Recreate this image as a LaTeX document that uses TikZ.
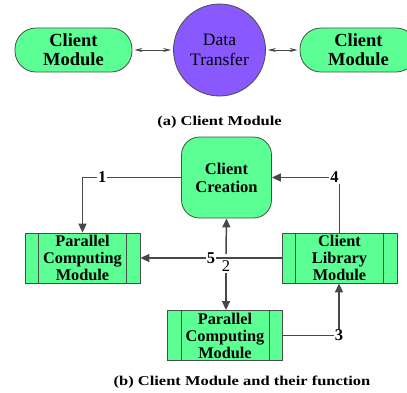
\documentclass[tikz,border=0pt]{standalone}
\usepackage{fontspec}
\setmainfont{Liberation Serif}
\newfontfamily\capfont[FakeStretch=1.22]{Liberation Serif}
\usetikzlibrary{arrows.meta,positioning}
\definecolor{mint}{RGB}{92,255,148}
\definecolor{violetfill}{RGB}{138,88,255}
\definecolor{edgegray}{RGB}{70,80,70}
\definecolor{arrowgray}{RGB}{72,72,72}
\tikzset{
  pill/.style={draw=edgegray, line width=0.8pt, fill=mint, rounded corners=21pt,
    minimum width=117pt, minimum height=44pt, align=center,
    font=\fontsize{18.5}{19}\selectfont\bfseries},
  circ/.style={circle, draw=edgegray, line width=0.8pt, fill=violetfill,
    minimum size=92pt, inner sep=0pt, align=center,
    font=\fontsize{17.5}{20}\selectfont},
  creabox/.style={draw=edgegray, line width=0.8pt, fill=mint, rounded corners=18pt,
    minimum width=90pt, minimum height=81pt, align=center,
    font=\fontsize{16.5}{18}\selectfont\bfseries},
  modbox/.style={draw=edgegray, line width=0.8pt, fill=mint,
    minimum width=115pt, minimum height=50pt, inner sep=0pt, align=center,
    font=\fontsize{16.3}{17}\selectfont\bfseries,
    path picture={
      \draw[edgegray, line width=0.8pt]
        ([xshift=13.5pt]path picture bounding box.north west) --
        ([xshift=13.5pt]path picture bounding box.south west);
      \draw[edgegray, line width=0.8pt]
        ([xshift=-13.5pt]path picture bounding box.north east) --
        ([xshift=-13.5pt]path picture bounding box.south east);
    }},
  conn/.style={draw=arrowgray, line width=1.5pt,
    -{Triangle[length=9pt,width=8pt]}},
  plainline/.style={draw=arrowgray, line width=1.5pt},
  twoway/.style={draw=arrowgray, line width=0.9pt,
    {Stealth[length=8pt,width=4pt]}-{Stealth[length=8pt,width=4pt]},
    shorten <=2pt, shorten >=2pt},
  lab/.style={fill=white, inner sep=1pt, font=\fontsize{16.5}{16}\selectfont\bfseries},
  labr/.style={inner sep=1pt, font=\fontsize{16.5}{16}\selectfont},
  captext/.style={font=\capfont\fontsize{13.5}{14}\selectfont\bfseries}
}
\begin{document}
\begin{tikzpicture}[x=1pt,y=-1pt]
\useasboundingbox (0,0) rectangle (407,392);

% (a)
\node[pill] (cl) at (73.5,50) {Client\\Module};
\node[circ] (dt) at (219.5,50) {Data\\Transfer};
\node[pill] (cr) at (358.5,50) {Client\\Module};
\draw[twoway] (cl.east) -- (dt.west);
\draw[twoway] (dt.east) -- (cr.west);
\node[captext] (capa) at (219.5,122) {(a) Client Module};

% (b)
\node[creabox] (cc) at (226.5,177.5) {Client\\Creation};
\node[modbox] (pcl) at (82.5,258) {Parallel\\Computing\\Module};
\node[modbox] (clm) at (339.5,258) {Client\\Library\\Module};
\node[modbox] (pcb) at (225,335.5) {Parallel\\Computing\\Module};

\draw[conn] (cc.west) -| node[lab, pos=0.4] {1} (pcl.north);
\draw[conn] (clm.north) |- node[lab, pos=0.5, xshift=-5pt] {4} (cc.east);
\draw[conn] (clm.west) -- node[lab, pos=0.5] {5} (pcl.east);

\node[labr] (two) at (226,266) {2};
\coordinate (j2) at (226,254);
\draw[conn] (j2) -- (cc.south);
\draw[conn] (two.south) -- (two.south |- pcb.north);

\node[lab] (three) at (339,335.5) {3};
\draw[plainline] (pcb.east) -- (three.west);
\draw[conn] (three.north) -- (three.north |- clm.south);

\node[captext] (capb) at (242,382) {(b) Client Module and their function};
\end{tikzpicture}
\end{document}
